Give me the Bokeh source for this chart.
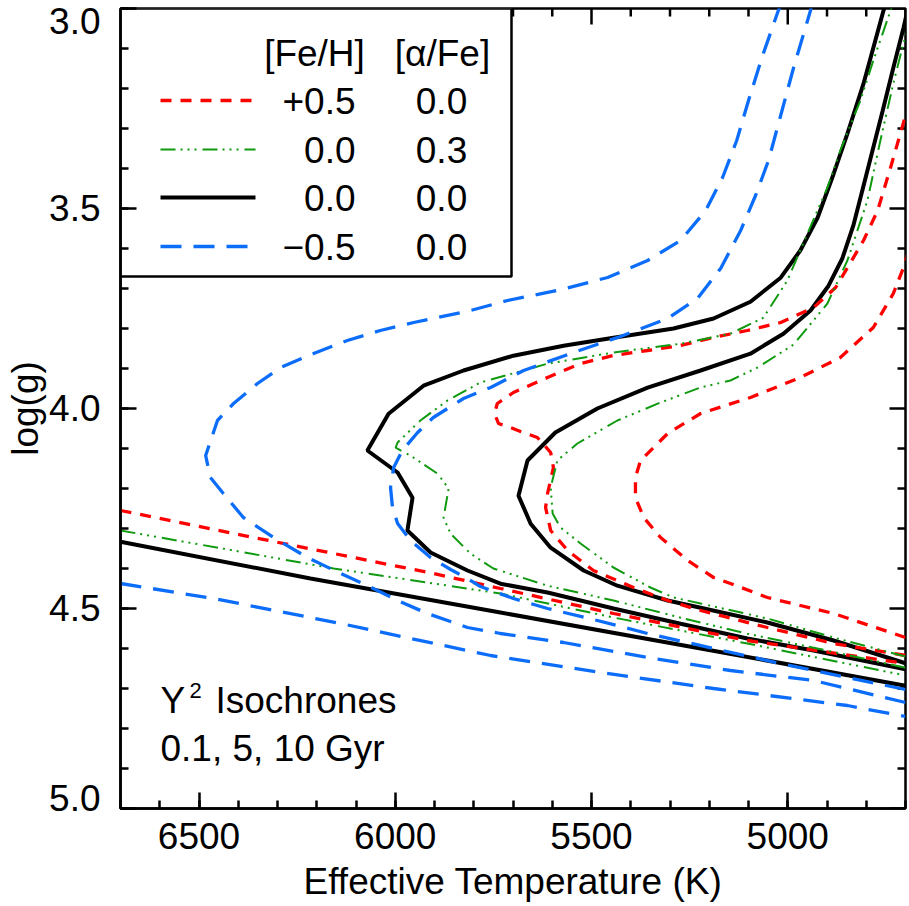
import numpy as np
from bokeh.plotting import figure
from bokeh.models import Range1d, FixedTicker, PrintfTickFormatter
from bokeh.core.properties import value
from bokeh.embed import file_html
from bokeh.resources import INLINE

# ---------------- data (Teff in K, log g) ----------------
# [Fe/H]=0.0, [a/Fe]=0.0  (black)
teff_sol_01 = [6700, 6216, 5732, 5222, 4700]
logg_sol_01 = [4.333, 4.425, 4.510, 4.600, 4.693]
teff_sol_05 = [4700, 4934, 5103, 5273, 5444, 5612, 5732, 5816, 5910, 5969,
               5956, 5994, 6071, 6017, 5928, 5826, 5699, 5571, 5444, 5291,
               5189, 5095, 5018, 4968, 4924, 4883, 4848, 4807, 4756, 4748]
logg_sol_05 = [4.652, 4.605, 4.575, 4.538, 4.500, 4.460, 4.438, 4.405, 4.360, 4.305,
               4.223, 4.160, 4.105, 4.013, 3.943, 3.905, 3.868, 3.843, 3.823, 3.800,
               3.775, 3.733, 3.673, 3.605, 3.523, 3.413, 3.313, 3.188, 3.005, 2.985]
teff_sol_10 = [4700, 4883, 5052, 5222, 5306, 5434, 5520, 5604, 5655, 5686,
               5663, 5592, 5485, 5357, 5222, 5095, 5011, 4942, 4896, 4861,
               4833, 4810, 4784, 4758, 4731, 4705, 4698]
logg_sol_10 = [4.637, 4.580, 4.535, 4.498, 4.480, 4.443, 4.405, 4.348, 4.288, 4.218,
               4.130, 4.060, 4.000, 3.948, 3.905, 3.863, 3.813, 3.755, 3.693, 3.625,
               3.543, 3.455, 3.355, 3.255, 3.148, 3.048, 3.018]

# [Fe/H]=0.0, [a/Fe]=0.3  (green)
teff_alp_01 = [6700, 6412, 6157, 5732, 5444, 5103, 4700]
logg_alp_01 = [4.305, 4.355, 4.400, 4.4625, 4.5225, 4.5875, 4.6675]
teff_alp_05 = [4700, 4934, 5103, 5273, 5444, 5612, 5750, 5808, 5859, 5877,
               5864, 5892, 5961, 5999, 5994, 5936, 5867, 5783, 5612, 5444,
               5273, 5146, 5062, 5001, 4950, 4899, 4866, 4815, 4782, 4738, 4731]
logg_alp_05 = [4.648, 4.598, 4.563, 4.523, 4.480, 4.443, 4.400, 4.363, 4.313, 4.273,
               4.200, 4.163, 4.118, 4.098, 4.085, 4.030, 3.980, 3.935, 3.888, 3.860,
               3.838, 3.813, 3.773, 3.680, 3.563, 3.448, 3.355, 3.230, 3.130, 3.005, 2.980]
teff_alp_10 = [4700, 4883, 5052, 5222, 5291, 5350, 5444, 5528, 5579, 5599,
               5604, 5587, 5536, 5434, 5324, 5222, 5146, 5077, 4985, 4899,
               4848, 4797, 4764, 4731, 4708, 4692]
logg_alp_10 = [4.620, 4.5725, 4.525, 4.4875, 4.4725, 4.4475, 4.3975, 4.3375, 4.2975, 4.2625,
               4.1975, 4.130, 4.0875, 4.030, 3.985, 3.9475, 3.930, 3.8975, 3.840, 3.7375,
               3.630, 3.480, 3.330, 3.1875, 3.0975, 3.0425]

# [Fe/H]=+0.5, [a/Fe]=0.0  (red)
teff_mr_01 = [6700, 6412, 6157, 5903, 5732, 5444, 5103, 4700]
logg_mr_01 = [4.255, 4.3125, 4.3625, 4.4125, 4.450, 4.5125, 4.580, 4.6375]
teff_mr_05 = [4700, 4883, 5052, 5222, 5306, 5393, 5495, 5561, 5604, 5617,
              5612, 5597, 5604, 5638, 5681, 5706, 5737, 5747, 5740, 5699,
              5612, 5528, 5444, 5357, 5273, 5189, 5103, 5018, 4934, 4878,
              4840, 4807, 4771, 4738, 4713, 4698]
logg_mr_05 = [4.6175, 4.5875, 4.5475, 4.505, 4.480, 4.4475, 4.405, 4.355, 4.305, 4.2475,
              4.2125, 4.1475, 4.110, 4.0725, 4.0575, 4.0475, 4.0375, 4.0125, 3.9875, 3.960,
              3.9225, 3.8875, 3.8675, 3.855, 3.8425, 3.8225, 3.805, 3.785, 3.7475, 3.6975,
              3.635, 3.580, 3.505, 3.3975, 3.3125, 3.260]
teff_mr_10 = [4700, 4883, 5052, 5146, 5189, 5255, 5324, 5367, 5388, 5388,
              5375, 5306, 5222, 5095, 4968, 4866, 4782, 4731, 4705, 4692]
logg_mr_10 = [4.5725, 4.5125, 4.4725, 4.4375, 4.4225, 4.380, 4.3225, 4.2725, 4.2225, 4.1725,
              4.130, 4.0625, 4.0125, 3.9725, 3.9225, 3.8725, 3.7975, 3.7125, 3.6475, 3.605]

# [Fe/H]=-0.5, [a/Fe]=0.0  (blue)
teff_mp_01 = [6700, 6463, 6139, 5757, 5477, 5189, 4848, 4700]
logg_mp_01 = [4.4375, 4.475, 4.5375, 4.6175, 4.660, 4.700, 4.7425, 4.770]
teff_mp_05 = [4700, 4934, 5146, 5357, 5571, 5732, 5816, 5918, 5994, 6071,
              6139, 6224, 6310, 6387, 6438, 6471, 6483, 6453, 6412, 6351,
              6292, 6208, 6122, 6038, 5953, 5808, 5714, 5587, 5459, 5357,
              5273, 5209, 5166, 5130, 5100, 5064, 5024, 5011]
logg_mp_05 = [4.735, 4.680, 4.655, 4.6225, 4.585, 4.5625, 4.5475, 4.5125, 4.480, 4.4425,
              4.4125, 4.3725, 4.3225, 4.2725, 4.2125, 4.1725, 4.1175, 4.030, 3.9875, 3.9375,
              3.8975, 3.8625, 3.830, 3.805, 3.785, 3.755, 3.730, 3.705, 3.6725, 3.630,
              3.580, 3.505, 3.4225, 3.330, 3.230, 3.1175, 3.005, 2.980]
teff_mp_10 = [4700, 4848, 5018, 5189, 5357, 5485, 5612, 5699, 5783, 5816,
              5859, 5910, 5961, 5994, 6007, 6012, 6004, 5982, 5943, 5903,
              5826, 5757, 5673, 5546, 5426, 5306, 5230, 5171, 5120, 5082,
              5049, 5018, 4985, 4942, 4937]
logg_mp_10 = [4.7025, 4.6725, 4.6375, 4.600, 4.5625, 4.530, 4.500, 4.475, 4.445, 4.425,
              4.4025, 4.3725, 4.330, 4.2875, 4.2475, 4.1975, 4.1475, 4.105, 4.060, 4.0225,
              3.975, 3.9475, 3.905, 3.860, 3.820, 3.775, 3.725, 3.650, 3.555, 3.4675,
              3.380, 3.2675, 3.1475, 3.005, 2.980]

x_major_ticks = [6500, 6000, 5500, 5000]
y_major_ticks = [3.0, 3.5, 4.0, 4.5, 5.0]
legend_feh = ["+0.5", "0.0", "0.0", "\u22120.5"]
legend_afe = ["0.0", "0.3", "0.0", "0.0"]
legend_head = ["[Fe/H]", "[\u03b1/Fe]"]
note_lines = ["Y", "2", "Isochrones", "0.1, 5, 10 Gyr"]

# ---------------- layout ----------------
W, H = 909, 906
FL, FR, FT, FB = 120, 905, 8, 808
X0, X1 = 6700, 4700
Y0, Y1 = 3.0, 5.0
FONT = "Liberation Sans"
FS = "37px"
MAJ, MIN = 16, 8


def px2x(px):
    return X0 + (px - FL) * (X1 - X0) / (FR - FL)


def px2y(py):
    return Y0 + (py - FT) * (Y1 - Y0) / (FB - FT)


p = figure(width=W, height=H, x_range=Range1d(X0, X1), y_range=Range1d(Y1, Y0),
           output_backend="svg", toolbar_location=None,
           min_border_left=FL, min_border_right=W - FR, min_border_top=FT,
           min_border_bottom=H - FB,
           x_axis_label="Effective Temperature (K)", y_axis_label="log(g)")
p.xgrid.visible = False
p.ygrid.visible = False
p.background_fill_color = "white"
p.border_fill_color = "white"
p.outline_line_color = "black"
p.outline_line_width = 2.5

x_minor = list(np.arange(4700, 6701, 100))
y_minor = [round(v, 1) for v in np.arange(3.0, 5.01, 0.1)]


def style_axis(ax, ticks, minor):
    ax.ticker = FixedTicker(ticks=ticks, minor_ticks=minor)
    ax.axis_line_width = 2.5
    ax.axis_line_color = "black"
    ax.major_tick_line_width = 2.5
    ax.minor_tick_line_width = 2.5
    ax.major_tick_line_color = "black"
    ax.minor_tick_line_color = "black"
    ax.major_tick_in = MAJ
    ax.major_tick_out = 0
    ax.minor_tick_in = MIN
    ax.minor_tick_out = 0
    ax.major_label_text_font = FONT
    ax.major_label_text_font_size = FS
    ax.major_label_text_color = "black"
    ax.axis_label_text_font = FONT
    ax.axis_label_text_font_size = FS
    ax.axis_label_text_font_style = "normal"
    ax.axis_label_text_color = "black"


style_axis(p.xaxis[0], x_major_ticks, x_minor)
p.xaxis[0].formatter = PrintfTickFormatter(format="%d")
p.xaxis[0].major_label_standoff = 14
p.xaxis[0].axis_label_standoff = 9

style_axis(p.yaxis[0], y_major_ticks, y_minor)
p.yaxis[0].formatter = PrintfTickFormatter(format="%.1f")
p.yaxis[0].major_label_standoff = 20
p.yaxis[0].axis_label_standoff = 0
# the end labels sit on the frame corners; nudge them inward as in the original
p.yaxis[0].major_label_text_line_height = 0.5
p.yaxis[0].major_label_overrides = {
    Y0: "%.1f" % Y0 + "\n",
    Y1: "%.1f" % Y1 + "\n",
}

# mirrored ticks on the top and right edges
xt_major = x_major_ticks
xt_minor = [t for t in x_minor if t not in x_major_ticks]
yt_major = y_major_ticks
yt_minor = [t for t in y_minor if t not in y_major_ticks]
tick_sty = dict(line_color="black", line_width=2.5)
p.segment(x0=xt_major, y0=[Y0] * len(xt_major), x1=xt_major,
          y1=[px2y(FT + MAJ)] * len(xt_major), **tick_sty)
p.segment(x0=xt_minor, y0=[Y0] * len(xt_minor), x1=xt_minor,
          y1=[px2y(FT + MIN)] * len(xt_minor), **tick_sty)
p.segment(x0=[X1] * len(yt_major), y0=yt_major, x1=[px2x(FR - MAJ)] * len(yt_major),
          y1=yt_major, **tick_sty)
p.segment(x0=[X1] * len(yt_minor), y0=yt_minor, x1=[px2x(FR - MIN)] * len(yt_minor),
          y1=yt_minor, **tick_sty)

# ---------------- curves ----------------
RED = "#ff0000"
GREEN = "#0f9a0f"
BLUE = "#0b6dfa"
sty_black = dict(line_color="black", line_width=4)
sty_red = dict(line_color=RED, line_width=3.3, line_dash="11 9")
sty_green = dict(line_color=GREEN, line_width=2, line_dash="15 5 2 5 2 5 2 6")
sty_blue = dict(line_color=BLUE, line_width=3.3, line_dash="21 12")

for t, g in [(teff_sol_01, logg_sol_01), (teff_sol_05, logg_sol_05), (teff_sol_10, logg_sol_10)]:
    p.line(t, g, **sty_black)
for t, g in [(teff_mr_01, logg_mr_01), (teff_mr_05, logg_mr_05), (teff_mr_10, logg_mr_10)]:
    p.line(t, g, **sty_red)
for t, g in [(teff_alp_01, logg_alp_01), (teff_alp_05, logg_alp_05), (teff_alp_10, logg_alp_10)]:
    p.line(t, g, **sty_green)
for t, g in [(teff_mp_01, logg_mp_01), (teff_mp_05, logg_mp_05), (teff_mp_10, logg_mp_10)]:
    p.line(t, g, **sty_blue)

# ---------------- legend (drawn as a table) ----------------
p.quad(left=px2x(FL), right=px2x(511), top=px2y(FT), bottom=px2y(276),
       fill_color="white", line_color="black", line_width=2.5)
row_py = [100, 149, 197, 246]
for st, py in zip([sty_red, sty_green, sty_black, sty_blue], row_py):
    p.line([px2x(160), px2x(255)], [px2y(py), px2y(py)], **st)

txt = dict(text_font=value(FONT), text_font_size=value(FS), text_color="black",
           text_baseline="middle")
p.text(x=[px2x(314), px2x(442)], y=[px2y(53)] * 2, text=legend_head,
       text_align="center", **txt)
p.text(x=[px2x(355)] * 4, y=[px2y(v) for v in row_py], text=legend_feh,
       text_align="right", **txt)
p.text(x=[px2x(441)] * 4, y=[px2y(v) for v in row_py], text=legend_afe,
       text_align="center", **txt)

# ---------------- note ----------------
p.text(x=[px2x(160)], y=[px2y(700)], text=[note_lines[0]], text_align="left", **txt)
p.text(x=[px2x(189)], y=[px2y(690)], text=[note_lines[1]], text_align="left",
       text_font=value(FONT), text_font_size=value("22px"), text_color="black",
       text_baseline="middle")
p.text(x=[px2x(215)], y=[px2y(700)], text=[note_lines[2]], text_align="left", **txt)
p.text(x=[px2x(160)], y=[px2y(748)], text=[note_lines[3]], text_align="left", **txt)

open("out.html", "w").write(file_html(p, INLINE))
